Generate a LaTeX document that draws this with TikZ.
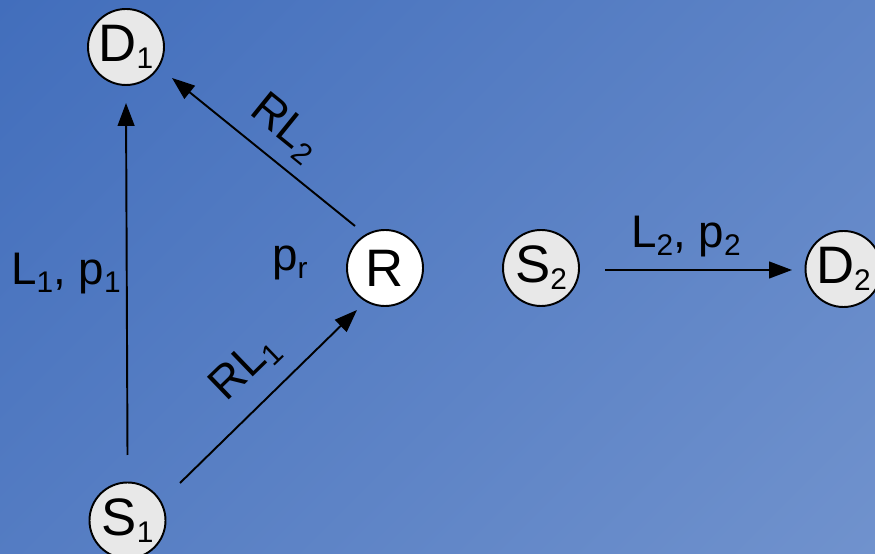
\documentclass[tikz,border=0pt]{standalone}
\usepackage{fontspec}
\setmainfont{Liberation Sans}
\usepackage{xcolor}
\usetikzlibrary{arrows.meta, calc}

\definecolor{bgtop}{RGB}{66,110,188}
\definecolor{bgbot}{RGB}{112,146,205}
\definecolor{nodegray}{RGB}{232,232,232}

% lowered subscript in text font
\newcommand{\subidx}[1]{\raisebox{-4pt}{\fontsize{17}{17}\selectfont #1}}

\tikzset{
  station/.style={circle, draw=black, line width=1.1pt, fill=nodegray,
    minimum size=1.52cm, inner sep=0pt, font=\fontsize{30}{30}\selectfont},
  relay/.style={station, fill=white},
  link/.style={line width=1.1pt, -{Triangle[length=13pt, width=9.5pt]}},
  lbl/.style={font=\fontsize{26}{26}\selectfont, inner sep=0pt}
}

\begin{document}
\begin{tikzpicture}
  \useasboundingbox (0,0) rectangle (17.5,11.06);
  \clip (0,0) rectangle (17.5,11.06);
  % background
  \shade[top color=bgtop, bottom color=bgbot, shading angle=45] (-3,-3) rectangle (20.5,14.06);

  % terminals
  \node[station] (D1) at (2.52,10.12) {D\subidx{1}};
  \node[relay]   (R)  at (7.70,5.70) {R};
  \node[station] (S1) at (2.55,0.65) {S\subidx{1}};
  \node[station] (S2) at (10.82,5.70) {S\subidx{2}};
  \node[station] (D2) at (16.87,5.68) {D\subidx{2}};

  % links
  \draw[link] ($(S1.center)+(0,1.31)$) -- ($(D1.center)+(0,-1.12)$);
  \draw[link] ($(R.center)+(-0.6,0.84)$) -- ($(D1.center)+(0.92,-0.62)$);
  \draw[link] ($(S1.center)+(1.05,0.75)$) -- ($(R.center)+(-0.56,-0.84)$);
  \draw[link] ($(S2.center)+(1.28,-0.04)$) -- ($(D2.center)+(-1.03,-0.02)$);

  % labels
  \node[lbl, anchor=base] (l1) at (1.32,5.36) {L\subidx{1}, p\subidx{1}};
  \node[lbl, anchor=base] (pr) at (5.80,5.64) {p\subidx{r}};
  \node[lbl, rotate=-39] (rl2) at (5.70,8.50) {RL\subidx{2}};
  \node[lbl, rotate=44] (rl1) at (4.90,3.70) {RL\subidx{1}};
  \node[lbl, anchor=base] (l2) at (13.72,6.10) {L\subidx{2}, p\subidx{2}};
\end{tikzpicture}
\end{document}
